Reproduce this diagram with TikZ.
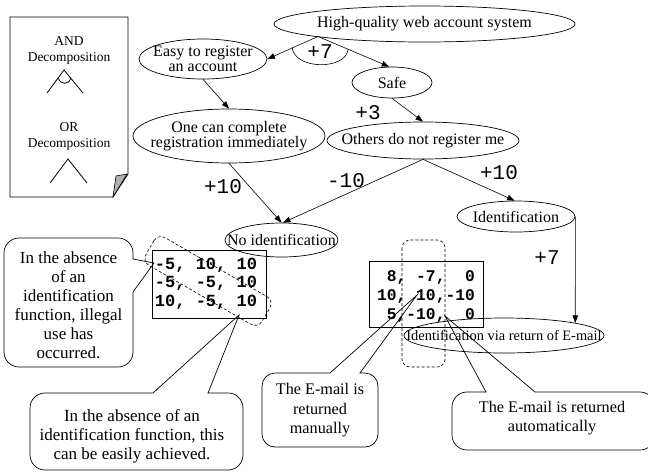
\documentclass[tikz,border=0pt]{standalone}
\usepackage{fontspec}
\setmainfont{Liberation Serif}
\newfontfamily\monofont{Liberation Mono}
\usetikzlibrary{arrows.meta,shapes.geometric}
\begin{document}
\begin{tikzpicture}[x=1pt,y=-1pt,
  ell/.style={draw, ellipse, inner sep=0pt, line width=0.7pt},
  etxt/.style={font=\fontsize{16}{14.5}\selectfont, align=center, inner sep=0pt},
  arr/.style={-{Triangle[length=7.5pt,width=5.5pt]}, line width=0.6pt},
  wlabel/.style={font=\monofont\fontsize{21}{21}\selectfont, inner sep=0pt},
  mbox/.style={draw, line width=0.8pt, inner sep=0pt},
  mtxt/.style={font=\monofont\bfseries\fontsize{17}{18.5}\selectfont, inner sep=0pt},
  ctxt/.style={font=\fontsize{17}{19}\selectfont, align=center, inner sep=0pt},
  cbox/.style={line width=0.7pt},
  dsh/.style={dash pattern=on 3pt off 2pt, line width=0.6pt},
  ltxt/.style={font=\fontsize{13.5}{16}\selectfont, align=center, inner sep=0pt},
]
\useasboundingbox (0,0) rectangle (648,472);

% legend
\draw[line width=0.8pt] (10,17) -- (128,17) -- (128,174) -- (113,197) -- (10,197) -- cycle;
\draw[line width=0.6pt, fill=black!30] (116,176) -- (127,174) -- (113,197) -- cycle;
\node[ltxt] (andlbl) at (69,50) {AND\\Decomposition};
\draw[line width=0.8pt] (47,93) -- (64,70) -- (83,93);
\draw[line width=0.8pt] (58.3,77.7) .. controls (60,85.2) and (69,85.2) .. (71,77.7);
\node[ltxt] (orlbl) at (69,136) {OR\\Decomposition};
\draw[line width=0.8pt] (50,183) -- (68,159) -- (87,183);

% goal ellipses
\node[ell, minimum width=301pt, minimum height=36pt] (top) at (424.5,24) {};
\node[etxt] (top-t) at (top) {High-quality web account system};
\node[ell, minimum width=128pt, minimum height=40pt] (easy) at (203,59) {};
\node[etxt, font=\fontsize{16}{15.5}\selectfont] (easy-t) at (easy) {Easy to register\\an account};
\node[ell, minimum width=80pt, minimum height=31pt] (safe) at (392,82.5) {};
\node[etxt] (safe-t) at (safe) {Safe};
\node[ell, minimum width=192pt, minimum height=54pt] (one) at (229,136) {};
\node[etxt] (one-t) at (one) {One can complete\\registration immediately};
\node[ell, minimum width=192pt, minimum height=37pt] (others) at (423,140.5) {};
\node[etxt] (others-t) at (others) {Others do not register me};
\node[ell, minimum width=113pt, minimum height=34pt] (noid) at (281.5,240) {};
\node[etxt] (noid-t) at (noid) {No identification};
\node[ell, minimum width=118pt, minimum height=31pt] (ident) at (516,216.5) {};
\node[etxt] (ident-t) at (ident) {Identification};
\node[ell, minimum width=200pt, minimum height=35pt] (email) at (504,335.5) {};
\node[etxt, font=\fontsize{14.4}{14}\selectfont] (email-t) at (email) {Identification via return of E-mail};

% connectors
\coordinate (j) at (318,36.5);
\draw[arr] (j) -- (easy.east);
\draw[arr] (j) -- (safe.100);
\draw[line width=0.6pt] (292,47.5) .. controls (295,70) and (345,70) .. (348,50);
\node[wlabel] (w1) at (320,52) {+7};
\draw[arr] (easy.south) -- (one.north);
\draw[arr] (safe.south) -- (others.north);
\node[wlabel] (w2) at (368,113) {+3};
\draw[arr] (one.south) -- (noid.north);
\node[wlabel] (w3) at (223,187) {+10};
\draw[arr] (others.south) -- (noid.85);
\node[wlabel] (w4) at (346,181) {-10};
\draw[arr] (others.south) -- (ident.95);
\node[wlabel] (w5) at (499,173) {+10};
\draw[arr] (ident.east) -- (email.10);
\node[wlabel] (w6) at (547,258) {+7};

% matrices
\node[mbox, minimum width=114pt, minimum height=68pt] (m1) at (209,284) {};
\node[mtxt, align=left] (m1t) at (206,283.5) {-5, 10, 10\\-5, -5, 10\\10, -5, 10};
\draw[dsh, rounded corners=8pt, rotate around={-30:(208,281)}] (141,265) rectangle (275,297);
\node[mbox, minimum width=114pt, minimum height=66pt] (m2) at (426,294) {};
\node[mtxt, align=right, font=\monofont\bfseries\fontsize{16.3}{19}\selectfont] (m2t) at (426,296)
  {\hphantom{0}8, -7,\hphantom{00}0\\10, 10,-10\\\hphantom{0}5,-10,\hphantom{00}0};
\draw[dsh, rounded corners=8pt] (402,240) rectangle (445,367);

% callouts
\draw[cbox] (154,263) -- (133,259) [rounded corners=15pt] -- (133,238) -- (4,238) -- (4,367) -- (133,367) [sharp corners] -- (133,292) -- cycle;
\node[ctxt] (c1) at (68.5,305.5) {In the absence\\of an\\identification\\function, illegal\\use has\\occurred.};

\draw[cbox] (239,315) -- (208,393) [rounded corners=15pt] -- (243,393) -- (243,470) -- (30,470) -- (30,393) [sharp corners] -- (153,393) -- cycle;
\node[ctxt] (c2) at (132,436) {In the absence of an\\identification function, this\\can be easily achieved.};

\draw[cbox] (417,295) -- (360,373) [rounded corners=13pt] -- (378,373) -- (378,447) -- (262,447) -- (262,373) [sharp corners] -- (330,373) -- cycle;
\node[ctxt, font=\fontsize{16.2}{19.5}\selectfont] (c3) at (320,410.5) {The E-mail is\\returned\\manually};

\draw[cbox] (445,316) -- (535,392) [rounded corners=15pt] -- (655,392) -- (655,450) -- (452,450) -- (452,392) [sharp corners] -- (486,392) -- cycle;
\node[ctxt, font=\fontsize{16.2}{19}\selectfont] (c4) at (552,418.5) {The E-mail is returned\\automatically};
\end{tikzpicture}
\end{document}
